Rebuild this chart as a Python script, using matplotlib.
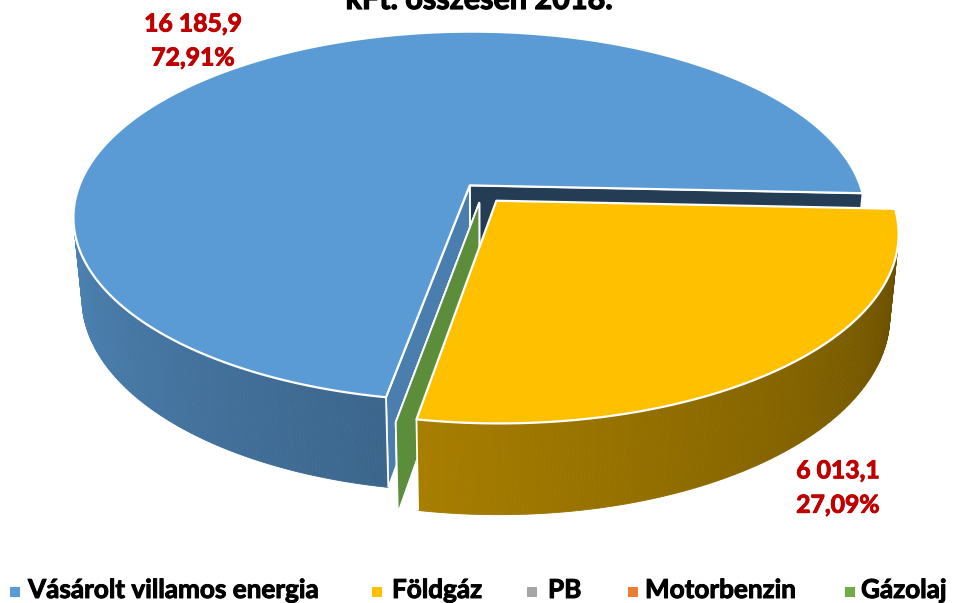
import numpy as np
import matplotlib
matplotlib.use('Agg')
import matplotlib.pyplot as plt
from matplotlib.patches import Polygon, Rectangle
from matplotlib.colors import to_rgb
import matplotlib.patheffects as pe

# ---------------- data ----------------
categories = ['Vásárolt villamos energia', 'Földgáz', 'PB', 'Motorbenzin', 'Gázolaj']
values = [16185.9, 6013.1, 0.0, 0.0, 0.0]
colors = ['#5B9BD5', '#FFC000', '#A5A5A5', '#ED7D31', '#70AD47']
title_text = 'kFt. összesen 2018.'

# ---------------- layout ----------------
W, HP = 956, 603
FONT = 'Lato'
LABEL_RED = '#C00000'
label_pos = {0: (193, 31.5, 65.5), 1: (838, 478.3, 512.7)}   # x, baseline value, baseline pct
legend_marker_x = [10, 372, 527, 628, 845]
legend_text_x = [28, 392, 548, 645, 861]

# 3D view
ELEV = np.radians(27.6)
DIST = 5.24
FOC = 2060.0
X0, Y0 = 483.0, 193.0
THICK = 0.235
EXPLODE = 0.054
START = 260.0          # math angle (deg) where the first slice begins (clockwise)

cam = np.array([0.0, -DIST * np.cos(ELEV)])


def proj(x, y, z):
    v = y * np.sin(ELEV) + z * np.cos(ELEV)
    w = y * np.cos(ELEV) - z * np.sin(ELEV)
    return X0 + FOC * x / (DIST + w), Y0 - FOC * v / (DIST + w)


def shade(c, f):
    r, g, b = to_rgb(c)
    return (min(r * f, 1), min(g * f, 1), min(b * f, 1))


def wall_f(t):
    tt = t % 360.0
    if tt < 90:
        tt += 360.0
    return float(np.clip(0.88 - (tt - 180.0) / 180.0 * 0.5, 0.3, 0.95))


def face_f(phi):
    p = phi % 360.0
    return float(np.clip(0.40 + (p - 268.5) / 82.5 * 0.42, 0.35, 0.9))


fig = plt.figure(figsize=(W / 100, HP / 100), dpi=100)
ax = fig.add_axes([0, 0, 1, 1])
ax.set_xlim(0, W)
ax.set_ylim(HP, 0)
ax.axis('off')

total = float(sum(values))
slices = []
cum = 0.0
for i, v in enumerate(values):
    a_begin = START - cum / total * 360.0
    a_end = a_begin - v / total * 360.0
    mid = np.radians((a_begin + a_end) / 2.0)
    c = np.array([EXPLODE * np.cos(mid), EXPLODE * np.sin(mid)])
    slices.append((a_end, a_begin, c))
    cum += v


def rim(c, t):
    return c[0] + np.cos(np.radians(t)), c[1] + np.sin(np.radians(t))


def draw_face(c, a, normal_deg, col, z):
    n = np.array([np.cos(np.radians(normal_deg)), np.sin(np.radians(normal_deg))])
    if np.dot(n, cam - c) <= 0:
        return
    rx, ry = rim(c, a)
    pts = [proj(c[0], c[1], 0), proj(rx, ry, 0), proj(rx, ry, -THICK), proj(c[0], c[1], -THICK)]
    ax.add_patch(Polygon(pts, closed=True, facecolor=shade(col, face_f(normal_deg)),
                         edgecolor='white', linewidth=1.3, zorder=z, joinstyle='round'))


def draw_slice(i, z):
    a_end, a_begin, c = slices[i]
    col = colors[i]
    span = a_begin - a_end
    if span <= 1e-9:
        draw_face(c, a_begin, a_begin - 90.0, col, z)
        draw_face(c, a_begin, a_begin + 90.0, col, z)
        return
    # cut faces
    draw_face(c, a_end, a_end - 90.0, col, z)
    draw_face(c, a_begin, a_begin + 90.0, col, z)
    # outer wall
    n = max(int(span * 2), 8)
    ts = np.linspace(a_end, a_begin, n + 1)
    for j in range(n):
        tm = 0.5 * (ts[j] + ts[j + 1])
        nm = np.array([np.cos(np.radians(tm)), np.sin(np.radians(tm))])
        pm = np.array(rim(c, tm))
        if np.dot(nm, cam - pm) <= 0:
            continue
        x1, y1 = rim(c, ts[j])
        x2, y2 = rim(c, ts[j + 1])
        pts = [proj(x1, y1, 0), proj(x2, y2, 0), proj(x2, y2, -THICK), proj(x1, y1, -THICK)]
        fc = shade(col, wall_f(tm))
        ax.add_patch(Polygon(pts, closed=True, facecolor=fc, edgecolor=fc,
                             linewidth=0.6, zorder=z + 0.1))
    # white vertical edges at the wall ends
    for t in (a_end, a_begin):
        x1, y1 = rim(c, t)
        nm = np.array([np.cos(np.radians(t)), np.sin(np.radians(t))])
        if np.dot(nm, cam - np.array([x1, y1])) > 0:
            p1 = proj(x1, y1, 0)
            p2 = proj(x1, y1, -THICK)
            ax.plot([p1[0], p2[0]], [p1[1], p2[1]], color='white', lw=1.3, zorder=z + 0.2,
                    solid_capstyle='butt')
    # top
    tt = np.linspace(a_end, a_begin, n + 1)
    pts = [proj(c[0], c[1], 0)] + [proj(*rim(c, t), 0) for t in tt]
    ax.add_patch(Polygon(pts, closed=True, facecolor=col, edgecolor='white',
                         linewidth=1.6, zorder=z + 0.3, joinstyle='round'))


order = [0] + [i for i, v in enumerate(values) if v == 0] + \
        [i for i, v in enumerate(values) if v > 0 and i != 0]
for k, i in enumerate(order):
    draw_slice(i, 2 + k)


def fmt_val(v):
    s = f"{v:,.1f}"
    return s.replace(',', ' ').replace('.', ',')


def bold_fx(color, lw=0.7):
    return [pe.withStroke(linewidth=lw, foreground=color)]


for i, (x, yb1, yb2) in label_pos.items():
    pct = values[i] / total * 100
    ax.text(x, yb1, fmt_val(values[i]), color=LABEL_RED, fontsize=17.8, fontweight='bold',
            family=FONT, ha='center', va='baseline', zorder=50,
            path_effects=bold_fx(LABEL_RED))
    ax.text(x, yb2, f"{pct:.2f}%".replace('.', ','), color=LABEL_RED, fontsize=17.8,
            fontweight='bold', family=FONT, ha='center', va='baseline', zorder=50,
            path_effects=bold_fx(LABEL_RED))

# title (partially outside the figure, as in the reference)
ax.text(479, 9.0, title_text, color='black', fontsize=22, fontweight='bold', family=FONT,
        ha='center', va='baseline', zorder=50, path_effects=bold_fx('black', 0.9))

# legend
for i, cat in enumerate(categories):
    ax.add_patch(Rectangle((legend_marker_x[i], 587), 10, 10, facecolor=colors[i],
                           edgecolor='none', zorder=50))
    ax.text(legend_text_x[i], 598, cat, color='black', fontsize=18.8, fontweight='bold',
            family=FONT, ha='left', va='baseline', zorder=50,
            path_effects=bold_fx('black'))

fig.savefig('out.png', dpi=100)
